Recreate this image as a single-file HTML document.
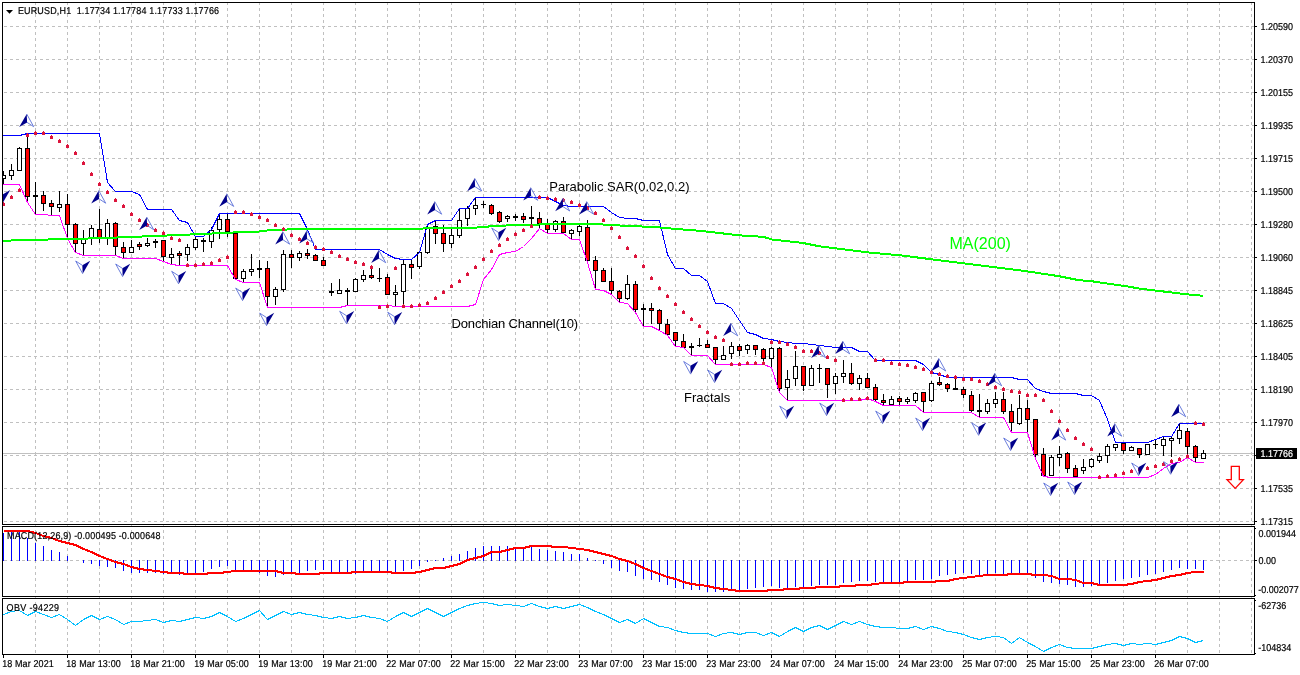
<!DOCTYPE html>
<html lang="en"><head><meta charset="utf-8"><title>EURUSD,H1</title>
<style>
html,body{margin:0;padding:0;background:#fff;}
body{width:1300px;height:675px;overflow:hidden;}
svg{display:block;font-family:"Liberation Sans",sans-serif;}
.ax{font-size:10px;fill:#000;stroke:#000;stroke-width:0.2px;}
.lb{font-size:13px;fill:#000;}
.cr{shape-rendering:crispEdges;}
</style></head><body>
<svg width="1300" height="675" viewBox="0 0 1300 675">
<rect width="1300" height="675" fill="#fff"/>
<defs><clipPath id="mc"><rect x="3" y="3" width="1251" height="521"/></clipPath></defs>
<g class="cr" stroke="#c0c0c0" stroke-width="1" stroke-dasharray="3 3" fill="none">
<path d="M35.5 2V654M67.5 2V654M99.5 2V654M131.5 2V654M163.5 2V654M195.5 2V654M227.5 2V654M259.5 2V654M291.5 2V654M323.5 2V654M355.5 2V654M387.5 2V654M419.5 2V654M451.5 2V654M483.5 2V654M515.5 2V654M547.5 2V654M579.5 2V654M611.5 2V654M643.5 2V654M675.5 2V654M707.5 2V654M739.5 2V654M771.5 2V654M803.5 2V654M835.5 2V654M867.5 2V654M899.5 2V654M931.5 2V654M963.5 2V654M995.5 2V654M1027.5 2V654M1059.5 2V654M1091.5 2V654M1123.5 2V654M1155.5 2V654M1187.5 2V654M1219.5 2V654M1251.5 2V654"/>
<path d="M4 26.5H1254M4 59.5H1254M4 92.5H1254M4 125.5H1254M4 158.5H1254M4 191.5H1254M4 224.5H1254M4 257.5H1254M4 290.5H1254M4 323.5H1254M4 356.5H1254M4 389.5H1254M4 422.5H1254M4 455.5H1254M4 488.5H1254M4 521.5H1254M4 560.5H1254"/>
</g>
<rect class="cr" x="3" y="453" width="1251" height="1" fill="#c0c0c0"/>
<g class="cr" clip-path="url(#mc)">
<rect x="3" y="171" width="1" height="13" fill="#000"/>
<rect x="1" y="175" width="5" height="4" fill="#000"/>
<rect x="2" y="176" width="3" height="2" fill="#ffffff"/>
<rect x="11" y="164" width="1" height="16" fill="#000"/>
<rect x="9" y="170" width="5" height="6" fill="#000"/>
<rect x="10" y="171" width="3" height="4" fill="#ffffff"/>
<rect x="19" y="147" width="1" height="24" fill="#000"/>
<rect x="17" y="148" width="5" height="23" fill="#000"/>
<rect x="18" y="149" width="3" height="21" fill="#ffffff"/>
<rect x="27" y="134" width="1" height="68" fill="#000"/>
<rect x="25" y="148" width="5" height="49" fill="#000"/>
<rect x="26" y="149" width="3" height="47" fill="#ff0000"/>
<rect x="35" y="182" width="1" height="32" fill="#000"/>
<rect x="33" y="195" width="5" height="2" fill="#000"/>
<rect x="43" y="191" width="1" height="20" fill="#000"/>
<rect x="41" y="195" width="5" height="9" fill="#000"/>
<rect x="42" y="196" width="3" height="7" fill="#ff0000"/>
<rect x="51" y="200" width="1" height="15" fill="#000"/>
<rect x="49" y="203" width="5" height="4" fill="#000"/>
<rect x="50" y="204" width="3" height="2" fill="#ff0000"/>
<rect x="59" y="191" width="1" height="21" fill="#000"/>
<rect x="57" y="204" width="5" height="4" fill="#000"/>
<rect x="58" y="205" width="3" height="2" fill="#ffffff"/>
<rect x="67" y="194" width="1" height="44" fill="#000"/>
<rect x="65" y="204" width="5" height="21" fill="#000"/>
<rect x="66" y="205" width="3" height="19" fill="#ff0000"/>
<rect x="75" y="223" width="1" height="29" fill="#000"/>
<rect x="73" y="224" width="5" height="20" fill="#000"/>
<rect x="74" y="225" width="3" height="18" fill="#ff0000"/>
<rect x="83" y="230" width="1" height="25" fill="#000"/>
<rect x="81" y="238" width="5" height="6" fill="#000"/>
<rect x="82" y="239" width="3" height="4" fill="#ffffff"/>
<rect x="91" y="225" width="1" height="20" fill="#000"/>
<rect x="89" y="228" width="5" height="11" fill="#000"/>
<rect x="90" y="229" width="3" height="9" fill="#ffffff"/>
<rect x="99" y="209" width="1" height="34" fill="#000"/>
<rect x="97" y="229" width="5" height="9" fill="#000"/>
<rect x="98" y="230" width="3" height="7" fill="#ff0000"/>
<rect x="107" y="219" width="1" height="26" fill="#000"/>
<rect x="105" y="223" width="5" height="15" fill="#000"/>
<rect x="106" y="224" width="3" height="13" fill="#ffffff"/>
<rect x="115" y="222" width="1" height="33" fill="#000"/>
<rect x="113" y="223" width="5" height="24" fill="#000"/>
<rect x="114" y="224" width="3" height="22" fill="#ff0000"/>
<rect x="123" y="242" width="1" height="16" fill="#000"/>
<rect x="121" y="247" width="5" height="6" fill="#000"/>
<rect x="122" y="248" width="3" height="4" fill="#ff0000"/>
<rect x="131" y="240" width="1" height="12" fill="#000"/>
<rect x="129" y="247" width="5" height="6" fill="#000"/>
<rect x="130" y="248" width="3" height="4" fill="#ffffff"/>
<rect x="139" y="242" width="1" height="8" fill="#000"/>
<rect x="137" y="244" width="5" height="3" fill="#000"/>
<rect x="138" y="245" width="3" height="1" fill="#ff0000"/>
<rect x="147" y="238" width="1" height="9" fill="#000"/>
<rect x="145" y="243" width="5" height="3" fill="#000"/>
<rect x="146" y="244" width="3" height="1" fill="#ffffff"/>
<rect x="155" y="239" width="1" height="9" fill="#000"/>
<rect x="153" y="241" width="5" height="2" fill="#000"/>
<rect x="163" y="240" width="1" height="21" fill="#000"/>
<rect x="161" y="240" width="5" height="17" fill="#000"/>
<rect x="162" y="241" width="3" height="15" fill="#ff0000"/>
<rect x="171" y="248" width="1" height="16" fill="#000"/>
<rect x="169" y="254" width="5" height="4" fill="#000"/>
<rect x="170" y="255" width="3" height="2" fill="#ffffff"/>
<rect x="179" y="251" width="1" height="14" fill="#000"/>
<rect x="177" y="253" width="5" height="3" fill="#000"/>
<rect x="178" y="254" width="3" height="1" fill="#ff0000"/>
<rect x="187" y="244" width="1" height="17" fill="#000"/>
<rect x="185" y="247" width="5" height="8" fill="#000"/>
<rect x="186" y="248" width="3" height="6" fill="#ffffff"/>
<rect x="195" y="237" width="1" height="13" fill="#000"/>
<rect x="193" y="239" width="5" height="9" fill="#000"/>
<rect x="194" y="240" width="3" height="7" fill="#ffffff"/>
<rect x="203" y="238" width="1" height="14" fill="#000"/>
<rect x="201" y="240" width="5" height="2" fill="#000"/>
<rect x="211" y="227" width="1" height="21" fill="#000"/>
<rect x="209" y="230" width="5" height="12" fill="#000"/>
<rect x="210" y="231" width="3" height="10" fill="#ffffff"/>
<rect x="219" y="214" width="1" height="25" fill="#000"/>
<rect x="217" y="219" width="5" height="11" fill="#000"/>
<rect x="218" y="220" width="3" height="9" fill="#ffffff"/>
<rect x="227" y="213" width="1" height="24" fill="#000"/>
<rect x="225" y="219" width="5" height="13" fill="#000"/>
<rect x="226" y="220" width="3" height="11" fill="#ff0000"/>
<rect x="235" y="232" width="1" height="48" fill="#000"/>
<rect x="233" y="233" width="5" height="46" fill="#000"/>
<rect x="234" y="234" width="3" height="44" fill="#ff0000"/>
<rect x="243" y="269" width="1" height="13" fill="#000"/>
<rect x="241" y="271" width="5" height="8" fill="#000"/>
<rect x="242" y="272" width="3" height="6" fill="#ffffff"/>
<rect x="251" y="254" width="1" height="22" fill="#000"/>
<rect x="249" y="269" width="5" height="3" fill="#000"/>
<rect x="250" y="270" width="3" height="1" fill="#ffffff"/>
<rect x="259" y="260" width="1" height="18" fill="#000"/>
<rect x="257" y="268" width="5" height="2" fill="#000"/>
<rect x="267" y="261" width="1" height="46" fill="#000"/>
<rect x="265" y="268" width="5" height="29" fill="#000"/>
<rect x="266" y="269" width="3" height="27" fill="#ff0000"/>
<rect x="275" y="287" width="1" height="18" fill="#000"/>
<rect x="273" y="289" width="5" height="8" fill="#000"/>
<rect x="274" y="290" width="3" height="6" fill="#ffffff"/>
<rect x="283" y="250" width="1" height="42" fill="#000"/>
<rect x="281" y="254" width="5" height="36" fill="#000"/>
<rect x="282" y="255" width="3" height="34" fill="#ffffff"/>
<rect x="291" y="250" width="1" height="18" fill="#000"/>
<rect x="289" y="254" width="5" height="4" fill="#000"/>
<rect x="290" y="255" width="3" height="2" fill="#ff0000"/>
<rect x="299" y="251" width="1" height="10" fill="#000"/>
<rect x="297" y="253" width="5" height="5" fill="#000"/>
<rect x="298" y="254" width="3" height="3" fill="#ffffff"/>
<rect x="307" y="249" width="1" height="10" fill="#000"/>
<rect x="305" y="253" width="5" height="3" fill="#000"/>
<rect x="306" y="254" width="3" height="1" fill="#ff0000"/>
<rect x="315" y="254" width="1" height="7" fill="#000"/>
<rect x="313" y="255" width="5" height="6" fill="#000"/>
<rect x="314" y="256" width="3" height="4" fill="#ff0000"/>
<rect x="323" y="257" width="1" height="9" fill="#000"/>
<rect x="321" y="260" width="5" height="6" fill="#000"/>
<rect x="322" y="261" width="3" height="4" fill="#ff0000"/>
<rect x="331" y="283" width="1" height="13" fill="#000"/>
<rect x="329" y="291" width="5" height="2" fill="#000"/>
<rect x="339" y="279" width="1" height="14" fill="#000"/>
<rect x="337" y="290" width="5" height="4" fill="#000"/>
<rect x="338" y="291" width="3" height="2" fill="#ffffff"/>
<rect x="347" y="288" width="1" height="17" fill="#000"/>
<rect x="345" y="290" width="5" height="2" fill="#000"/>
<rect x="355" y="278" width="1" height="14" fill="#000"/>
<rect x="353" y="279" width="5" height="13" fill="#000"/>
<rect x="354" y="280" width="3" height="11" fill="#ffffff"/>
<rect x="363" y="270" width="1" height="12" fill="#000"/>
<rect x="361" y="275" width="5" height="5" fill="#000"/>
<rect x="362" y="276" width="3" height="3" fill="#ffffff"/>
<rect x="371" y="268" width="1" height="11" fill="#000"/>
<rect x="369" y="275" width="5" height="3" fill="#000"/>
<rect x="370" y="276" width="3" height="1" fill="#ff0000"/>
<rect x="379" y="268" width="1" height="14" fill="#000"/>
<rect x="377" y="278" width="5" height="1" fill="#000"/>
<rect x="387" y="274" width="1" height="20" fill="#000"/>
<rect x="385" y="277" width="5" height="18" fill="#000"/>
<rect x="386" y="278" width="3" height="16" fill="#ff0000"/>
<rect x="395" y="285" width="1" height="21" fill="#000"/>
<rect x="393" y="292" width="5" height="3" fill="#000"/>
<rect x="394" y="293" width="3" height="1" fill="#ffffff"/>
<rect x="403" y="260" width="1" height="46" fill="#000"/>
<rect x="401" y="264" width="5" height="28" fill="#000"/>
<rect x="402" y="265" width="3" height="26" fill="#ffffff"/>
<rect x="411" y="260" width="1" height="19" fill="#000"/>
<rect x="409" y="264" width="5" height="4" fill="#000"/>
<rect x="410" y="265" width="3" height="2" fill="#ff0000"/>
<rect x="419" y="252" width="1" height="17" fill="#000"/>
<rect x="417" y="252" width="5" height="15" fill="#000"/>
<rect x="418" y="253" width="3" height="13" fill="#ffffff"/>
<rect x="427" y="224" width="1" height="30" fill="#000"/>
<rect x="425" y="227" width="5" height="26" fill="#000"/>
<rect x="426" y="228" width="3" height="24" fill="#ffffff"/>
<rect x="435" y="221" width="1" height="23" fill="#000"/>
<rect x="433" y="226" width="5" height="8" fill="#000"/>
<rect x="434" y="227" width="3" height="6" fill="#ff0000"/>
<rect x="443" y="225" width="1" height="27" fill="#000"/>
<rect x="441" y="233" width="5" height="11" fill="#000"/>
<rect x="442" y="234" width="3" height="9" fill="#ff0000"/>
<rect x="451" y="227" width="1" height="21" fill="#000"/>
<rect x="449" y="235" width="5" height="9" fill="#000"/>
<rect x="450" y="236" width="3" height="7" fill="#ffffff"/>
<rect x="459" y="208" width="1" height="30" fill="#000"/>
<rect x="457" y="220" width="5" height="16" fill="#000"/>
<rect x="458" y="221" width="3" height="14" fill="#ffffff"/>
<rect x="467" y="206" width="1" height="20" fill="#000"/>
<rect x="465" y="208" width="5" height="11" fill="#000"/>
<rect x="466" y="209" width="3" height="9" fill="#ffffff"/>
<rect x="475" y="198" width="1" height="17" fill="#000"/>
<rect x="473" y="205" width="5" height="4" fill="#000"/>
<rect x="474" y="206" width="3" height="2" fill="#ffffff"/>
<rect x="483" y="201" width="1" height="7" fill="#000"/>
<rect x="481" y="204" width="5" height="1" fill="#000"/>
<rect x="491" y="204" width="1" height="11" fill="#000"/>
<rect x="489" y="205" width="5" height="9" fill="#000"/>
<rect x="490" y="206" width="3" height="7" fill="#ff0000"/>
<rect x="499" y="211" width="1" height="12" fill="#000"/>
<rect x="497" y="212" width="5" height="10" fill="#000"/>
<rect x="498" y="213" width="3" height="8" fill="#ff0000"/>
<rect x="507" y="215" width="1" height="7" fill="#000"/>
<rect x="505" y="216" width="5" height="3" fill="#000"/>
<rect x="506" y="217" width="3" height="1" fill="#ffffff"/>
<rect x="515" y="214" width="1" height="7" fill="#000"/>
<rect x="513" y="216" width="5" height="2" fill="#000"/>
<rect x="523" y="213" width="1" height="10" fill="#000"/>
<rect x="521" y="216" width="5" height="4" fill="#000"/>
<rect x="522" y="217" width="3" height="2" fill="#ff0000"/>
<rect x="531" y="206" width="1" height="20" fill="#000"/>
<rect x="529" y="217" width="5" height="2" fill="#000"/>
<rect x="539" y="212" width="1" height="16" fill="#000"/>
<rect x="537" y="218" width="5" height="6" fill="#000"/>
<rect x="538" y="219" width="3" height="4" fill="#ff0000"/>
<rect x="547" y="219" width="1" height="14" fill="#000"/>
<rect x="545" y="223" width="5" height="7" fill="#000"/>
<rect x="546" y="224" width="3" height="5" fill="#ff0000"/>
<rect x="555" y="220" width="1" height="12" fill="#000"/>
<rect x="553" y="221" width="5" height="9" fill="#000"/>
<rect x="554" y="222" width="3" height="7" fill="#ffffff"/>
<rect x="563" y="217" width="1" height="17" fill="#000"/>
<rect x="561" y="221" width="5" height="12" fill="#000"/>
<rect x="562" y="222" width="3" height="10" fill="#ff0000"/>
<rect x="571" y="229" width="1" height="10" fill="#000"/>
<rect x="569" y="230" width="5" height="4" fill="#000"/>
<rect x="570" y="231" width="3" height="2" fill="#ffffff"/>
<rect x="579" y="225" width="1" height="11" fill="#000"/>
<rect x="577" y="226" width="5" height="6" fill="#000"/>
<rect x="578" y="227" width="3" height="4" fill="#ffffff"/>
<rect x="587" y="220" width="1" height="42" fill="#000"/>
<rect x="585" y="227" width="5" height="34" fill="#000"/>
<rect x="586" y="228" width="3" height="32" fill="#ff0000"/>
<rect x="595" y="256" width="1" height="33" fill="#000"/>
<rect x="593" y="260" width="5" height="11" fill="#000"/>
<rect x="594" y="261" width="3" height="9" fill="#ff0000"/>
<rect x="603" y="268" width="1" height="14" fill="#000"/>
<rect x="601" y="270" width="5" height="12" fill="#000"/>
<rect x="602" y="271" width="3" height="10" fill="#ff0000"/>
<rect x="611" y="268" width="1" height="26" fill="#000"/>
<rect x="609" y="281" width="5" height="10" fill="#000"/>
<rect x="610" y="282" width="3" height="8" fill="#ff0000"/>
<rect x="619" y="290" width="1" height="12" fill="#000"/>
<rect x="617" y="291" width="5" height="8" fill="#000"/>
<rect x="618" y="292" width="3" height="6" fill="#ff0000"/>
<rect x="627" y="275" width="1" height="25" fill="#000"/>
<rect x="625" y="284" width="5" height="15" fill="#000"/>
<rect x="626" y="285" width="3" height="13" fill="#ffffff"/>
<rect x="635" y="281" width="1" height="31" fill="#000"/>
<rect x="633" y="284" width="5" height="26" fill="#000"/>
<rect x="634" y="285" width="3" height="24" fill="#ff0000"/>
<rect x="643" y="304" width="1" height="22" fill="#000"/>
<rect x="641" y="308" width="5" height="2" fill="#000"/>
<rect x="651" y="303" width="1" height="21" fill="#000"/>
<rect x="649" y="308" width="5" height="3" fill="#000"/>
<rect x="650" y="309" width="3" height="1" fill="#ff0000"/>
<rect x="659" y="309" width="1" height="21" fill="#000"/>
<rect x="657" y="310" width="5" height="14" fill="#000"/>
<rect x="658" y="311" width="3" height="12" fill="#ff0000"/>
<rect x="667" y="319" width="1" height="16" fill="#000"/>
<rect x="665" y="324" width="5" height="11" fill="#000"/>
<rect x="666" y="325" width="3" height="9" fill="#ff0000"/>
<rect x="675" y="332" width="1" height="14" fill="#000"/>
<rect x="673" y="332" width="5" height="9" fill="#000"/>
<rect x="674" y="333" width="3" height="7" fill="#ff0000"/>
<rect x="683" y="334" width="1" height="14" fill="#000"/>
<rect x="681" y="341" width="5" height="7" fill="#000"/>
<rect x="682" y="342" width="3" height="5" fill="#ff0000"/>
<rect x="691" y="343" width="1" height="12" fill="#000"/>
<rect x="689" y="346" width="5" height="2" fill="#000"/>
<rect x="699" y="338" width="1" height="9" fill="#000"/>
<rect x="697" y="345" width="5" height="1" fill="#000"/>
<rect x="707" y="340" width="1" height="8" fill="#000"/>
<rect x="705" y="344" width="5" height="4" fill="#000"/>
<rect x="706" y="345" width="3" height="2" fill="#ff0000"/>
<rect x="715" y="347" width="1" height="17" fill="#000"/>
<rect x="713" y="347" width="5" height="13" fill="#000"/>
<rect x="714" y="348" width="3" height="11" fill="#ff0000"/>
<rect x="723" y="346" width="1" height="14" fill="#000"/>
<rect x="721" y="355" width="5" height="5" fill="#000"/>
<rect x="722" y="356" width="3" height="3" fill="#ffffff"/>
<rect x="731" y="342" width="1" height="17" fill="#000"/>
<rect x="729" y="346" width="5" height="8" fill="#000"/>
<rect x="730" y="347" width="3" height="6" fill="#ffffff"/>
<rect x="739" y="344" width="1" height="12" fill="#000"/>
<rect x="737" y="346" width="5" height="5" fill="#000"/>
<rect x="738" y="347" width="3" height="3" fill="#ff0000"/>
<rect x="747" y="344" width="1" height="10" fill="#000"/>
<rect x="745" y="345" width="5" height="5" fill="#000"/>
<rect x="746" y="346" width="3" height="3" fill="#ffffff"/>
<rect x="755" y="345" width="1" height="10" fill="#000"/>
<rect x="753" y="345" width="5" height="5" fill="#000"/>
<rect x="754" y="346" width="3" height="3" fill="#ff0000"/>
<rect x="763" y="348" width="1" height="14" fill="#000"/>
<rect x="761" y="349" width="5" height="10" fill="#000"/>
<rect x="762" y="350" width="3" height="8" fill="#ff0000"/>
<rect x="771" y="347" width="1" height="20" fill="#000"/>
<rect x="769" y="348" width="5" height="11" fill="#000"/>
<rect x="770" y="349" width="3" height="9" fill="#ffffff"/>
<rect x="779" y="347" width="1" height="45" fill="#000"/>
<rect x="777" y="348" width="5" height="41" fill="#000"/>
<rect x="778" y="349" width="3" height="39" fill="#ff0000"/>
<rect x="787" y="370" width="1" height="30" fill="#000"/>
<rect x="785" y="379" width="5" height="9" fill="#000"/>
<rect x="786" y="380" width="3" height="7" fill="#ffffff"/>
<rect x="795" y="351" width="1" height="35" fill="#000"/>
<rect x="793" y="366" width="5" height="13" fill="#000"/>
<rect x="794" y="367" width="3" height="11" fill="#ffffff"/>
<rect x="803" y="366" width="1" height="25" fill="#000"/>
<rect x="801" y="366" width="5" height="20" fill="#000"/>
<rect x="802" y="367" width="3" height="18" fill="#ff0000"/>
<rect x="811" y="365" width="1" height="21" fill="#000"/>
<rect x="809" y="368" width="5" height="18" fill="#000"/>
<rect x="810" y="369" width="3" height="16" fill="#ffffff"/>
<rect x="819" y="364" width="1" height="19" fill="#000"/>
<rect x="817" y="368" width="5" height="1" fill="#000"/>
<rect x="827" y="368" width="1" height="30" fill="#000"/>
<rect x="825" y="368" width="5" height="17" fill="#000"/>
<rect x="826" y="369" width="3" height="15" fill="#ff0000"/>
<rect x="835" y="373" width="1" height="21" fill="#000"/>
<rect x="833" y="376" width="5" height="8" fill="#000"/>
<rect x="834" y="377" width="3" height="6" fill="#ffffff"/>
<rect x="843" y="360" width="1" height="23" fill="#000"/>
<rect x="841" y="373" width="5" height="4" fill="#000"/>
<rect x="842" y="374" width="3" height="2" fill="#ffffff"/>
<rect x="851" y="363" width="1" height="22" fill="#000"/>
<rect x="849" y="373" width="5" height="11" fill="#000"/>
<rect x="850" y="374" width="3" height="9" fill="#ff0000"/>
<rect x="859" y="375" width="1" height="15" fill="#000"/>
<rect x="857" y="378" width="5" height="6" fill="#000"/>
<rect x="858" y="379" width="3" height="4" fill="#ffffff"/>
<rect x="867" y="373" width="1" height="15" fill="#000"/>
<rect x="865" y="378" width="5" height="10" fill="#000"/>
<rect x="866" y="379" width="3" height="8" fill="#ff0000"/>
<rect x="875" y="384" width="1" height="17" fill="#000"/>
<rect x="873" y="387" width="5" height="13" fill="#000"/>
<rect x="874" y="388" width="3" height="11" fill="#ff0000"/>
<rect x="883" y="394" width="1" height="11" fill="#000"/>
<rect x="881" y="400" width="5" height="3" fill="#000"/>
<rect x="882" y="401" width="3" height="1" fill="#ff0000"/>
<rect x="891" y="396" width="1" height="9" fill="#000"/>
<rect x="889" y="399" width="5" height="6" fill="#000"/>
<rect x="890" y="400" width="3" height="4" fill="#ffffff"/>
<rect x="899" y="396" width="1" height="9" fill="#000"/>
<rect x="897" y="398" width="5" height="4" fill="#000"/>
<rect x="898" y="399" width="3" height="2" fill="#ff0000"/>
<rect x="907" y="397" width="1" height="7" fill="#000"/>
<rect x="905" y="399" width="5" height="3" fill="#000"/>
<rect x="906" y="400" width="3" height="1" fill="#ffffff"/>
<rect x="915" y="392" width="1" height="11" fill="#000"/>
<rect x="913" y="393" width="5" height="8" fill="#000"/>
<rect x="914" y="394" width="3" height="6" fill="#ffffff"/>
<rect x="923" y="392" width="1" height="20" fill="#000"/>
<rect x="921" y="392" width="5" height="10" fill="#000"/>
<rect x="922" y="393" width="3" height="8" fill="#ff0000"/>
<rect x="931" y="381" width="1" height="21" fill="#000"/>
<rect x="929" y="383" width="5" height="18" fill="#000"/>
<rect x="930" y="384" width="3" height="16" fill="#ffffff"/>
<rect x="939" y="377" width="1" height="9" fill="#000"/>
<rect x="937" y="382" width="5" height="3" fill="#000"/>
<rect x="938" y="383" width="3" height="1" fill="#ff0000"/>
<rect x="947" y="383" width="1" height="9" fill="#000"/>
<rect x="945" y="384" width="5" height="5" fill="#000"/>
<rect x="946" y="385" width="3" height="3" fill="#ff0000"/>
<rect x="955" y="377" width="1" height="12" fill="#000"/>
<rect x="953" y="388" width="5" height="2" fill="#000"/>
<rect x="963" y="387" width="1" height="11" fill="#000"/>
<rect x="961" y="389" width="5" height="6" fill="#000"/>
<rect x="962" y="390" width="3" height="4" fill="#ff0000"/>
<rect x="971" y="391" width="1" height="21" fill="#000"/>
<rect x="969" y="395" width="5" height="16" fill="#000"/>
<rect x="970" y="396" width="3" height="14" fill="#ff0000"/>
<rect x="979" y="394" width="1" height="23" fill="#000"/>
<rect x="977" y="410" width="5" height="2" fill="#000"/>
<rect x="987" y="399" width="1" height="15" fill="#000"/>
<rect x="985" y="403" width="5" height="9" fill="#000"/>
<rect x="986" y="404" width="3" height="7" fill="#ffffff"/>
<rect x="995" y="392" width="1" height="16" fill="#000"/>
<rect x="993" y="399" width="5" height="5" fill="#000"/>
<rect x="994" y="400" width="3" height="3" fill="#ffffff"/>
<rect x="1003" y="392" width="1" height="22" fill="#000"/>
<rect x="1001" y="399" width="5" height="13" fill="#000"/>
<rect x="1002" y="400" width="3" height="11" fill="#ff0000"/>
<rect x="1011" y="404" width="1" height="28" fill="#000"/>
<rect x="1009" y="411" width="5" height="12" fill="#000"/>
<rect x="1010" y="412" width="3" height="10" fill="#ff0000"/>
<rect x="1019" y="395" width="1" height="30" fill="#000"/>
<rect x="1017" y="408" width="5" height="16" fill="#000"/>
<rect x="1018" y="409" width="3" height="14" fill="#ffffff"/>
<rect x="1027" y="400" width="1" height="32" fill="#000"/>
<rect x="1025" y="408" width="5" height="12" fill="#000"/>
<rect x="1026" y="409" width="3" height="10" fill="#ff0000"/>
<rect x="1035" y="419" width="1" height="39" fill="#000"/>
<rect x="1033" y="419" width="5" height="36" fill="#000"/>
<rect x="1034" y="420" width="3" height="34" fill="#ff0000"/>
<rect x="1043" y="448" width="1" height="28" fill="#000"/>
<rect x="1041" y="454" width="5" height="22" fill="#000"/>
<rect x="1042" y="455" width="3" height="20" fill="#ff0000"/>
<rect x="1051" y="455" width="1" height="21" fill="#000"/>
<rect x="1049" y="457" width="5" height="19" fill="#000"/>
<rect x="1050" y="458" width="3" height="17" fill="#ffffff"/>
<rect x="1059" y="446" width="1" height="20" fill="#000"/>
<rect x="1057" y="454" width="5" height="4" fill="#000"/>
<rect x="1058" y="455" width="3" height="2" fill="#ffffff"/>
<rect x="1067" y="452" width="1" height="21" fill="#000"/>
<rect x="1065" y="453" width="5" height="16" fill="#000"/>
<rect x="1066" y="454" width="3" height="14" fill="#ff0000"/>
<rect x="1075" y="465" width="1" height="12" fill="#000"/>
<rect x="1073" y="468" width="5" height="9" fill="#000"/>
<rect x="1074" y="469" width="3" height="7" fill="#ff0000"/>
<rect x="1083" y="459" width="1" height="15" fill="#000"/>
<rect x="1081" y="467" width="5" height="4" fill="#000"/>
<rect x="1082" y="468" width="3" height="2" fill="#ffffff"/>
<rect x="1091" y="458" width="1" height="10" fill="#000"/>
<rect x="1089" y="459" width="5" height="8" fill="#000"/>
<rect x="1090" y="460" width="3" height="6" fill="#ffffff"/>
<rect x="1099" y="453" width="1" height="10" fill="#000"/>
<rect x="1097" y="456" width="5" height="5" fill="#000"/>
<rect x="1098" y="457" width="3" height="3" fill="#ffffff"/>
<rect x="1107" y="444" width="1" height="19" fill="#000"/>
<rect x="1105" y="446" width="5" height="10" fill="#000"/>
<rect x="1106" y="447" width="3" height="8" fill="#ffffff"/>
<rect x="1115" y="444" width="1" height="7" fill="#000"/>
<rect x="1113" y="444" width="5" height="4" fill="#000"/>
<rect x="1114" y="445" width="3" height="2" fill="#ffffff"/>
<rect x="1123" y="443" width="1" height="11" fill="#000"/>
<rect x="1121" y="443" width="5" height="8" fill="#000"/>
<rect x="1122" y="444" width="3" height="6" fill="#ff0000"/>
<rect x="1131" y="446" width="1" height="5" fill="#000"/>
<rect x="1129" y="447" width="5" height="4" fill="#000"/>
<rect x="1130" y="448" width="3" height="2" fill="#ffffff"/>
<rect x="1139" y="448" width="1" height="10" fill="#000"/>
<rect x="1137" y="448" width="5" height="7" fill="#000"/>
<rect x="1138" y="449" width="3" height="5" fill="#ff0000"/>
<rect x="1147" y="444" width="1" height="11" fill="#000"/>
<rect x="1145" y="444" width="5" height="11" fill="#000"/>
<rect x="1146" y="445" width="3" height="9" fill="#ffffff"/>
<rect x="1155" y="440" width="1" height="9" fill="#000"/>
<rect x="1153" y="444" width="5" height="1" fill="#000"/>
<rect x="1163" y="436" width="1" height="20" fill="#000"/>
<rect x="1161" y="439" width="5" height="7" fill="#000"/>
<rect x="1162" y="440" width="3" height="5" fill="#ffffff"/>
<rect x="1171" y="436" width="1" height="21" fill="#000"/>
<rect x="1169" y="438" width="5" height="3" fill="#000"/>
<rect x="1170" y="439" width="3" height="1" fill="#ffffff"/>
<rect x="1179" y="424" width="1" height="20" fill="#000"/>
<rect x="1177" y="430" width="5" height="9" fill="#000"/>
<rect x="1178" y="431" width="3" height="7" fill="#ffffff"/>
<rect x="1187" y="428" width="1" height="28" fill="#000"/>
<rect x="1185" y="431" width="5" height="16" fill="#000"/>
<rect x="1186" y="432" width="3" height="14" fill="#ff0000"/>
<rect x="1195" y="445" width="1" height="17" fill="#000"/>
<rect x="1193" y="446" width="5" height="12" fill="#000"/>
<rect x="1194" y="447" width="3" height="10" fill="#ff0000"/>
<rect x="1203" y="450" width="1" height="8" fill="#000"/>
<rect x="1201" y="453" width="5" height="6" fill="#000"/>
<rect x="1202" y="454" width="3" height="4" fill="#ffffff"/>
</g>
<polyline class="cr" points="3,135.5 11.5,135.5 19.5,135.5 27.5,133.5 35.5,133.5 43.5,133.5 51.5,133.5 59.5,133.5 67.5,133.5 75.5,133.5 83.5,133.5 91.5,133.5 99.5,133.5 107.5,182.5 115.5,191.5 123.5,191.5 131.5,191.5 139.5,194.5 147.5,209.5 155.5,209.5 163.5,209.5 171.5,209.5 179.5,220.5 187.5,222.5 195.5,236.5 203.5,236.5 211.5,229.5 219.5,213.5 227.5,213.5 235.5,213.5 243.5,213.5 251.5,213.5 259.5,213.5 267.5,213.5 275.5,213.5 283.5,213.5 291.5,213.5 299.5,213.5 307.5,229.5 315.5,249.5 323.5,249.5 331.5,249.5 339.5,249.5 347.5,249.5 355.5,249.5 363.5,249.5 371.5,249.5 379.5,249.5 387.5,254.5 395.5,258.5 403.5,259.5 411.5,259.5 419.5,252.5 427.5,224.5 435.5,220.5 443.5,220.5 451.5,220.5 459.5,208.5 467.5,208.5 475.5,197.5 483.5,197.5 491.5,197.5 499.5,197.5 507.5,197.5 515.5,197.5 523.5,197.5 531.5,197.5 539.5,197.5 547.5,197.5 555.5,201.5 563.5,205.5 571.5,206.5 579.5,206.5 587.5,206.5 595.5,206.5 603.5,206.5 611.5,212.5 619.5,217.5 627.5,218.5 635.5,218.5 643.5,220.5 651.5,220.5 659.5,220.5 667.5,254.5 675.5,268.5 683.5,268.5 691.5,275.5 699.5,275.5 707.5,281.5 715.5,303.5 723.5,303.5 731.5,308.5 739.5,320.5 747.5,332.5 755.5,334.5 763.5,338.5 771.5,339.5 779.5,341.5 787.5,342.5 795.5,343.5 803.5,343.5 811.5,344.5 819.5,345.5 827.5,346.5 835.5,347.5 843.5,347.5 851.5,347.5 859.5,351.5 867.5,351.5 875.5,360.5 883.5,360.5 891.5,360.5 899.5,360.5 907.5,360.5 915.5,360.5 923.5,364.5 931.5,372.5 939.5,374.5 947.5,377.5 955.5,377.5 963.5,377.5 971.5,377.5 979.5,377.5 987.5,377.5 995.5,377.5 1003.5,377.5 1011.5,377.5 1019.5,379.5 1027.5,379.5 1035.5,388.5 1043.5,391.5 1051.5,393.5 1059.5,393.5 1067.5,393.5 1075.5,393.5 1083.5,395.5 1091.5,395.5 1099.5,400.5 1107.5,419.5 1115.5,442.5 1123.5,442.5 1131.5,442.5 1139.5,442.5 1147.5,442.5 1155.5,439.5 1163.5,436.5 1171.5,436.5 1179.5,423.5 1187.5,423.5 1195.5,423.5 1203.5,423.5 1204,423.5" fill="none" stroke="#0000ff" stroke-width="1"/>
<polyline class="cr" points="3,184.5 11.5,184.5 19.5,184.5 27.5,202.5 35.5,214.5 43.5,214.5 51.5,215.5 59.5,215.5 67.5,238.5 75.5,252.5 83.5,255.5 91.5,255.5 99.5,255.5 107.5,255.5 115.5,255.5 123.5,258.5 131.5,258.5 139.5,258.5 147.5,258.5 155.5,258.5 163.5,261.5 171.5,264.5 179.5,265.5 187.5,265.5 195.5,265.5 203.5,265.5 211.5,265.5 219.5,265.5 227.5,265.5 235.5,279.5 243.5,282.5 251.5,282.5 259.5,282.5 267.5,307.5 275.5,307.5 283.5,307.5 291.5,307.5 299.5,307.5 307.5,307.5 315.5,307.5 323.5,307.5 331.5,307.5 339.5,307.5 347.5,305.5 355.5,305.5 363.5,305.5 371.5,305.5 379.5,305.5 387.5,305.5 395.5,306.5 403.5,306.5 411.5,306.5 419.5,306.5 427.5,306.5 435.5,306.5 443.5,306.5 451.5,306.5 459.5,306.5 467.5,306.5 475.5,304.5 483.5,279.5 491.5,269.5 499.5,254.5 507.5,252.5 515.5,251.5 523.5,246.5 531.5,238.5 539.5,228.5 547.5,233.5 555.5,233.5 563.5,233.5 571.5,239.5 579.5,239.5 587.5,262.5 595.5,289.5 603.5,290.5 611.5,294.5 619.5,302.5 627.5,303.5 635.5,312.5 643.5,326.5 651.5,326.5 659.5,330.5 667.5,335.5 675.5,346.5 683.5,347.5 691.5,355.5 699.5,355.5 707.5,355.5 715.5,364.5 723.5,364.5 731.5,364.5 739.5,364.5 747.5,364.5 755.5,364.5 763.5,364.5 771.5,367.5 779.5,392.5 787.5,400.5 795.5,400.5 803.5,400.5 811.5,400.5 819.5,400.5 827.5,400.5 835.5,400.5 843.5,400.5 851.5,400.5 859.5,400.5 867.5,398.5 875.5,401.5 883.5,405.5 891.5,405.5 899.5,405.5 907.5,405.5 915.5,405.5 923.5,412.5 931.5,412.5 939.5,412.5 947.5,412.5 955.5,412.5 963.5,412.5 971.5,412.5 979.5,417.5 987.5,417.5 995.5,417.5 1003.5,417.5 1011.5,432.5 1019.5,432.5 1027.5,432.5 1035.5,458.5 1043.5,476.5 1051.5,477.5 1059.5,477.5 1067.5,477.5 1075.5,477.5 1083.5,477.5 1091.5,477.5 1099.5,477.5 1107.5,477.5 1115.5,477.5 1123.5,477.5 1131.5,477.5 1139.5,477.5 1147.5,477.5 1155.5,474.5 1163.5,468.5 1171.5,463.5 1179.5,462.5 1187.5,457.5 1195.5,462.5 1203.5,462.5 1204,462.5" fill="none" stroke="#ff00ff" stroke-width="1"/>
<polyline class="cr" points="3,240.8 20,240.2 52,239.4 100,238.2 160,235.8 200,234.1 228,232.7 259,231.5 270,230.2 290,229.4 370,228.9 450,228.3 476,227.6 492,226.2 520,224.8 560,224.2 600,224.2 608,225 640,226.4 660,227.5 680,229.3 700,230.8 740,235.4 763,236.8 772,239.5 803,243 820,246.4 836,248.4 867,252.3 900,255.3 931,259.2 963,263.3 996,267.4 1027,271.3 1059,276.2 1078,280 1092,281.3 1124,285.9 1140,288.6 1155,290.5 1188,294.4 1203,295.8" fill="none" stroke="#00ff00" stroke-width="2" stroke-linejoin="round"/>
<g class="cr" fill="#dc143c">
<path d="M2 203h1v-1h1v1h1v3h-3z"/>
<path d="M10 196h1v-1h1v1h1v3h-3z"/>
<path d="M18 189h1v-1h1v1h1v3h-3z"/>
<path d="M26 134h1v-1h1v1h1v3h-3z"/>
<path d="M34 132h1v-1h1v1h1v3h-3z"/>
<path d="M42 132h1v-1h1v1h1v3h-3z"/>
<path d="M50 136h1v-1h1v1h1v3h-3z"/>
<path d="M58 140h1v-1h1v1h1v3h-3z"/>
<path d="M66 145h1v-1h1v1h1v3h-3z"/>
<path d="M74 152h1v-1h1v1h1v3h-3z"/>
<path d="M82 162h1v-1h1v1h1v3h-3z"/>
<path d="M90 173h1v-1h1v1h1v3h-3z"/>
<path d="M98 183h1v-1h1v1h1v3h-3z"/>
<path d="M106 191h1v-1h1v1h1v3h-3z"/>
<path d="M114 199h1v-1h1v1h1v3h-3z"/>
<path d="M122 205h1v-1h1v1h1v3h-3z"/>
<path d="M130 213h1v-1h1v1h1v3h-3z"/>
<path d="M138 219h1v-1h1v1h1v3h-3z"/>
<path d="M146 224h1v-1h1v1h1v3h-3z"/>
<path d="M154 229h1v-1h1v1h1v3h-3z"/>
<path d="M162 232h1v-1h1v1h1v3h-3z"/>
<path d="M170 237h1v-1h1v1h1v3h-3z"/>
<path d="M178 239h1v-1h1v1h1v3h-3z"/>
<path d="M186 264h1v-1h1v1h1v3h-3z"/>
<path d="M194 264h1v-1h1v1h1v3h-3z"/>
<path d="M202 263h1v-1h1v1h1v3h-3z"/>
<path d="M210 262h1v-1h1v1h1v3h-3z"/>
<path d="M218 259h1v-1h1v1h1v3h-3z"/>
<path d="M226 256h1v-1h1v1h1v3h-3z"/>
<path d="M234 211h1v-1h1v1h1v3h-3z"/>
<path d="M242 211h1v-1h1v1h1v3h-3z"/>
<path d="M250 213h1v-1h1v1h1v3h-3z"/>
<path d="M258 216h1v-1h1v1h1v3h-3z"/>
<path d="M266 219h1v-1h1v1h1v3h-3z"/>
<path d="M274 224h1v-1h1v1h1v3h-3z"/>
<path d="M282 228h1v-1h1v1h1v3h-3z"/>
<path d="M290 234h1v-1h1v1h1v3h-3z"/>
<path d="M298 238h1v-1h1v1h1v3h-3z"/>
<path d="M306 242h1v-1h1v1h1v3h-3z"/>
<path d="M314 246h1v-1h1v1h1v3h-3z"/>
<path d="M322 248h1v-1h1v1h1v3h-3z"/>
<path d="M330 251h1v-1h1v1h1v3h-3z"/>
<path d="M338 255h1v-1h1v1h1v3h-3z"/>
<path d="M346 258h1v-1h1v1h1v3h-3z"/>
<path d="M354 261h1v-1h1v1h1v3h-3z"/>
<path d="M362 263h1v-1h1v1h1v3h-3z"/>
<path d="M370 266h1v-1h1v1h1v3h-3z"/>
<path d="M378 306h1v-1h1v1h1v3h-3z"/>
<path d="M386 305h1v-1h1v1h1v3h-3z"/>
<path d="M394 267h1v-1h1v1h1v3h-3z"/>
<path d="M402 305h1v-1h1v1h1v3h-3z"/>
<path d="M410 305h1v-1h1v1h1v3h-3z"/>
<path d="M418 304h1v-1h1v1h1v3h-3z"/>
<path d="M426 302h1v-1h1v1h1v3h-3z"/>
<path d="M434 297h1v-1h1v1h1v3h-3z"/>
<path d="M442 291h1v-1h1v1h1v3h-3z"/>
<path d="M450 285h1v-1h1v1h1v3h-3z"/>
<path d="M458 280h1v-1h1v1h1v3h-3z"/>
<path d="M466 273h1v-1h1v1h1v3h-3z"/>
<path d="M474 266h1v-1h1v1h1v3h-3z"/>
<path d="M482 258h1v-1h1v1h1v3h-3z"/>
<path d="M490 250h1v-1h1v1h1v3h-3z"/>
<path d="M498 244h1v-1h1v1h1v3h-3z"/>
<path d="M506 238h1v-1h1v1h1v3h-3z"/>
<path d="M514 233h1v-1h1v1h1v3h-3z"/>
<path d="M522 229h1v-1h1v1h1v3h-3z"/>
<path d="M530 225h1v-1h1v1h1v3h-3z"/>
<path d="M538 196h1v-1h1v1h1v3h-3z"/>
<path d="M546 197h1v-1h1v1h1v3h-3z"/>
<path d="M554 198h1v-1h1v1h1v3h-3z"/>
<path d="M562 199h1v-1h1v1h1v3h-3z"/>
<path d="M570 201h1v-1h1v1h1v3h-3z"/>
<path d="M578 204h1v-1h1v1h1v3h-3z"/>
<path d="M586 207h1v-1h1v1h1v3h-3z"/>
<path d="M594 212h1v-1h1v1h1v3h-3z"/>
<path d="M602 219h1v-1h1v1h1v3h-3z"/>
<path d="M610 227h1v-1h1v1h1v3h-3z"/>
<path d="M618 236h1v-1h1v1h1v3h-3z"/>
<path d="M626 247h1v-1h1v1h1v3h-3z"/>
<path d="M634 255h1v-1h1v1h1v3h-3z"/>
<path d="M642 265h1v-1h1v1h1v3h-3z"/>
<path d="M650 277h1v-1h1v1h1v3h-3z"/>
<path d="M658 287h1v-1h1v1h1v3h-3z"/>
<path d="M666 295h1v-1h1v1h1v3h-3z"/>
<path d="M674 303h1v-1h1v1h1v3h-3z"/>
<path d="M682 311h1v-1h1v1h1v3h-3z"/>
<path d="M690 318h1v-1h1v1h1v3h-3z"/>
<path d="M698 325h1v-1h1v1h1v3h-3z"/>
<path d="M706 331h1v-1h1v1h1v3h-3z"/>
<path d="M714 336h1v-1h1v1h1v3h-3z"/>
<path d="M722 339h1v-1h1v1h1v3h-3z"/>
<path d="M730 363h1v-1h1v1h1v3h-3z"/>
<path d="M738 363h1v-1h1v1h1v3h-3z"/>
<path d="M746 362h1v-1h1v1h1v3h-3z"/>
<path d="M754 362h1v-1h1v1h1v3h-3z"/>
<path d="M762 362h1v-1h1v1h1v3h-3z"/>
<path d="M770 341h1v-1h1v1h1v3h-3z"/>
<path d="M778 341h1v-1h1v1h1v3h-3z"/>
<path d="M786 343h1v-1h1v1h1v3h-3z"/>
<path d="M794 346h1v-1h1v1h1v3h-3z"/>
<path d="M802 350h1v-1h1v1h1v3h-3z"/>
<path d="M810 350h1v-1h1v1h1v3h-3z"/>
<path d="M818 352h1v-1h1v1h1v3h-3z"/>
<path d="M826 356h1v-1h1v1h1v3h-3z"/>
<path d="M834 359h1v-1h1v1h1v3h-3z"/>
<path d="M842 399h1v-1h1v1h1v3h-3z"/>
<path d="M850 398h1v-1h1v1h1v3h-3z"/>
<path d="M858 398h1v-1h1v1h1v3h-3z"/>
<path d="M866 397h1v-1h1v1h1v3h-3z"/>
<path d="M874 359h1v-1h1v1h1v3h-3z"/>
<path d="M882 359h1v-1h1v1h1v3h-3z"/>
<path d="M890 362h1v-1h1v1h1v3h-3z"/>
<path d="M898 363h1v-1h1v1h1v3h-3z"/>
<path d="M906 364h1v-1h1v1h1v3h-3z"/>
<path d="M914 366h1v-1h1v1h1v3h-3z"/>
<path d="M922 368h1v-1h1v1h1v3h-3z"/>
<path d="M930 371h1v-1h1v1h1v3h-3z"/>
<path d="M938 373h1v-1h1v1h1v3h-3z"/>
<path d="M946 375h1v-1h1v1h1v3h-3z"/>
<path d="M954 376h1v-1h1v1h1v3h-3z"/>
<path d="M962 378h1v-1h1v1h1v3h-3z"/>
<path d="M970 378h1v-1h1v1h1v3h-3z"/>
<path d="M978 380h1v-1h1v1h1v3h-3z"/>
<path d="M986 383h1v-1h1v1h1v3h-3z"/>
<path d="M994 386h1v-1h1v1h1v3h-3z"/>
<path d="M1002 388h1v-1h1v1h1v3h-3z"/>
<path d="M1010 390h1v-1h1v1h1v3h-3z"/>
<path d="M1018 391h1v-1h1v1h1v3h-3z"/>
<path d="M1026 394h1v-1h1v1h1v3h-3z"/>
<path d="M1034 394h1v-1h1v1h1v3h-3z"/>
<path d="M1042 399h1v-1h1v1h1v3h-3z"/>
<path d="M1050 410h1v-1h1v1h1v3h-3z"/>
<path d="M1058 420h1v-1h1v1h1v3h-3z"/>
<path d="M1066 429h1v-1h1v1h1v3h-3z"/>
<path d="M1074 437h1v-1h1v1h1v3h-3z"/>
<path d="M1082 443h1v-1h1v1h1v3h-3z"/>
<path d="M1090 448h1v-1h1v1h1v3h-3z"/>
<path d="M1098 476h1v-1h1v1h1v3h-3z"/>
<path d="M1106 475h1v-1h1v1h1v3h-3z"/>
<path d="M1114 474h1v-1h1v1h1v3h-3z"/>
<path d="M1122 472h1v-1h1v1h1v3h-3z"/>
<path d="M1130 470h1v-1h1v1h1v3h-3z"/>
<path d="M1138 468h1v-1h1v1h1v3h-3z"/>
<path d="M1146 467h1v-1h1v1h1v3h-3z"/>
<path d="M1154 465h1v-1h1v1h1v3h-3z"/>
<path d="M1162 463h1v-1h1v1h1v3h-3z"/>
<path d="M1170 460h1v-1h1v1h1v3h-3z"/>
<path d="M1178 458h1v-1h1v1h1v3h-3z"/>
<path d="M1186 455h1v-1h1v1h1v3h-3z"/>
<path d="M1194 422h1v-1h1v1h1v3h-3z"/>
<path d="M1202 423h1v-1h1v1h1v3h-3z"/>
</g>
<g clip-path="url(#mc)">
<path d="M26.7 114L19.2 127L27.099999999999998 122.4Z" fill="#00008b"/><path d="M26.7 114L33.7 126.7L27.099999999999998 122.4" fill="none" stroke="#5a6fd8" stroke-width="0.9"/>
<path d="M98.7 190.5L91.2 203.5L99.10000000000001 198.9Z" fill="#00008b"/><path d="M98.7 190.5L105.7 203.2L99.10000000000001 198.9" fill="none" stroke="#5a6fd8" stroke-width="0.9"/>
<path d="M146.7 217L139.2 230L147.1 225.4Z" fill="#00008b"/><path d="M146.7 217L153.7 229.7L147.1 225.4" fill="none" stroke="#5a6fd8" stroke-width="0.9"/>
<path d="M226.7 193.7L219.2 206.7L227.1 202.1Z" fill="#00008b"/><path d="M226.7 193.7L233.7 206.39999999999998L227.1 202.1" fill="none" stroke="#5a6fd8" stroke-width="0.9"/>
<path d="M282.7 231.5L275.2 244.5L283.09999999999997 239.9Z" fill="#00008b"/><path d="M282.7 231.5L289.7 244.2L283.09999999999997 239.9" fill="none" stroke="#5a6fd8" stroke-width="0.9"/>
<path d="M306.7 230.5L299.2 243.5L307.09999999999997 238.9Z" fill="#00008b"/><path d="M306.7 230.5L313.7 243.2L307.09999999999997 238.9" fill="none" stroke="#5a6fd8" stroke-width="0.9"/>
<path d="M378.7 250L371.2 263L379.09999999999997 258.4Z" fill="#00008b"/><path d="M378.7 250L385.7 262.7L379.09999999999997 258.4" fill="none" stroke="#5a6fd8" stroke-width="0.9"/>
<path d="M434.7 201.5L427.2 214.5L435.09999999999997 209.9Z" fill="#00008b"/><path d="M434.7 201.5L441.7 214.2L435.09999999999997 209.9" fill="none" stroke="#5a6fd8" stroke-width="0.9"/>
<path d="M474.7 178.3L467.2 191.3L475.09999999999997 186.70000000000002Z" fill="#00008b"/><path d="M474.7 178.3L481.7 191.0L475.09999999999997 186.70000000000002" fill="none" stroke="#5a6fd8" stroke-width="0.9"/>
<path d="M530.7 187.6L523.2 200.6L531.1 196.0Z" fill="#00008b"/><path d="M530.7 187.6L537.7 200.29999999999998L531.1 196.0" fill="none" stroke="#5a6fd8" stroke-width="0.9"/>
<path d="M562.7 198.3L555.2 211.3L563.1 206.70000000000002Z" fill="#00008b"/><path d="M562.7 198.3L569.7 211.0L563.1 206.70000000000002" fill="none" stroke="#5a6fd8" stroke-width="0.9"/>
<path d="M586.7 201.5L579.2 214.5L587.1 209.9Z" fill="#00008b"/><path d="M586.7 201.5L593.7 214.2L587.1 209.9" fill="none" stroke="#5a6fd8" stroke-width="0.9"/>
<path d="M730.7 323.1L723.2 336.1L731.1 331.5Z" fill="#00008b"/><path d="M730.7 323.1L737.7 335.8L731.1 331.5" fill="none" stroke="#5a6fd8" stroke-width="0.9"/>
<path d="M818.7 345L811.2 358L819.1 353.4Z" fill="#00008b"/><path d="M818.7 345L825.7 357.7L819.1 353.4" fill="none" stroke="#5a6fd8" stroke-width="0.9"/>
<path d="M842.7 341.1L835.2 354.1L843.1 349.5Z" fill="#00008b"/><path d="M842.7 341.1L849.7 353.8L843.1 349.5" fill="none" stroke="#5a6fd8" stroke-width="0.9"/>
<path d="M938.7 358.3L931.2 371.3L939.1 366.7Z" fill="#00008b"/><path d="M938.7 358.3L945.7 371.0L939.1 366.7" fill="none" stroke="#5a6fd8" stroke-width="0.9"/>
<path d="M994.7 373.1L987.2 386.1L995.1 381.5Z" fill="#00008b"/><path d="M994.7 373.1L1001.7 385.8L995.1 381.5" fill="none" stroke="#5a6fd8" stroke-width="0.9"/>
<path d="M1058.7 427.4L1051.2 440.4L1059.1000000000001 435.79999999999995Z" fill="#00008b"/><path d="M1058.7 427.4L1065.7 440.09999999999997L1059.1000000000001 435.79999999999995" fill="none" stroke="#5a6fd8" stroke-width="0.9"/>
<path d="M1114.7 423.5L1107.2 436.5L1115.1000000000001 431.9Z" fill="#00008b"/><path d="M1114.7 423.5L1121.7 436.2L1115.1000000000001 431.9" fill="none" stroke="#5a6fd8" stroke-width="0.9"/>
<path d="M1178.7 404L1171.2 417L1179.1000000000001 412.4Z" fill="#00008b"/><path d="M1178.7 404L1185.7 416.7L1179.1000000000001 412.4" fill="none" stroke="#5a6fd8" stroke-width="0.9"/>
<path d="M2.7 203.1L10.2 190.1L2.3000000000000003 194.70000000000002Z" fill="#00008b"/><path d="M2.7 203.1L-4.3 190.4L2.3000000000000003 194.70000000000002" fill="none" stroke="#5a6fd8" stroke-width="0.9"/>
<path d="M82.7 273.7L90.2 260.7L82.3 265.3Z" fill="#00008b"/><path d="M82.7 273.7L75.7 261L82.3 265.3" fill="none" stroke="#5a6fd8" stroke-width="0.9"/>
<path d="M122.7 276.7L130.2 263.7L122.3 268.3Z" fill="#00008b"/><path d="M122.7 276.7L115.7 264L122.3 268.3" fill="none" stroke="#5a6fd8" stroke-width="0.9"/>
<path d="M178.7 284.0L186.2 271.0L178.29999999999998 275.6Z" fill="#00008b"/><path d="M178.7 284.0L171.7 271.3L178.29999999999998 275.6" fill="none" stroke="#5a6fd8" stroke-width="0.9"/>
<path d="M242.7 300.8L250.2 287.8L242.29999999999998 292.40000000000003Z" fill="#00008b"/><path d="M242.7 300.8L235.7 288.1L242.29999999999998 292.40000000000003" fill="none" stroke="#5a6fd8" stroke-width="0.9"/>
<path d="M266.7 325.8L274.2 312.8L266.3 317.40000000000003Z" fill="#00008b"/><path d="M266.7 325.8L259.7 313.1L266.3 317.40000000000003" fill="none" stroke="#5a6fd8" stroke-width="0.9"/>
<path d="M346.7 324.0L354.2 311.0L346.3 315.6Z" fill="#00008b"/><path d="M346.7 324.0L339.7 311.3L346.3 315.6" fill="none" stroke="#5a6fd8" stroke-width="0.9"/>
<path d="M394.7 324.9L402.2 311.9L394.3 316.5Z" fill="#00008b"/><path d="M394.7 324.9L387.7 312.2L394.3 316.5" fill="none" stroke="#5a6fd8" stroke-width="0.9"/>
<path d="M498.7 240.7L506.2 227.7L498.3 232.3Z" fill="#00008b"/><path d="M498.7 240.7L491.7 228L498.3 232.3" fill="none" stroke="#5a6fd8" stroke-width="0.9"/>
<path d="M690.7 374.2L698.2 361.2L690.3000000000001 365.8Z" fill="#00008b"/><path d="M690.7 374.2L683.7 361.5L690.3000000000001 365.8" fill="none" stroke="#5a6fd8" stroke-width="0.9"/>
<path d="M714.7 382.7L722.2 369.7L714.3000000000001 374.3Z" fill="#00008b"/><path d="M714.7 382.7L707.7 370L714.3000000000001 374.3" fill="none" stroke="#5a6fd8" stroke-width="0.9"/>
<path d="M786.7 418.8L794.2 405.8L786.3000000000001 410.40000000000003Z" fill="#00008b"/><path d="M786.7 418.8L779.7 406.1L786.3000000000001 410.40000000000003" fill="none" stroke="#5a6fd8" stroke-width="0.9"/>
<path d="M826.7 415.8L834.2 402.8L826.3000000000001 407.40000000000003Z" fill="#00008b"/><path d="M826.7 415.8L819.7 403.1L826.3000000000001 407.40000000000003" fill="none" stroke="#5a6fd8" stroke-width="0.9"/>
<path d="M882.7 423.8L890.2 410.8L882.3000000000001 415.40000000000003Z" fill="#00008b"/><path d="M882.7 423.8L875.7 411.1L882.3000000000001 415.40000000000003" fill="none" stroke="#5a6fd8" stroke-width="0.9"/>
<path d="M922.7 430.8L930.2 417.8L922.3000000000001 422.40000000000003Z" fill="#00008b"/><path d="M922.7 430.8L915.7 418.1L922.3000000000001 422.40000000000003" fill="none" stroke="#5a6fd8" stroke-width="0.9"/>
<path d="M978.7 435.5L986.2 422.5L978.3000000000001 427.1Z" fill="#00008b"/><path d="M978.7 435.5L971.7 422.8L978.3000000000001 427.1" fill="none" stroke="#5a6fd8" stroke-width="0.9"/>
<path d="M1010.7 450.7L1018.2 437.7L1010.3000000000001 442.3Z" fill="#00008b"/><path d="M1010.7 450.7L1003.7 438L1010.3000000000001 442.3" fill="none" stroke="#5a6fd8" stroke-width="0.9"/>
<path d="M1050.7 495.7L1058.2 482.7L1050.3 487.3Z" fill="#00008b"/><path d="M1050.7 495.7L1043.7 483L1050.3 487.3" fill="none" stroke="#5a6fd8" stroke-width="0.9"/>
<path d="M1074.7 494.7L1082.2 481.7L1074.3 486.3Z" fill="#00008b"/><path d="M1074.7 494.7L1067.7 482L1074.3 486.3" fill="none" stroke="#5a6fd8" stroke-width="0.9"/>
<path d="M1138.7 475.7L1146.2 462.7L1138.3 467.3Z" fill="#00008b"/><path d="M1138.7 475.7L1131.7 463L1138.3 467.3" fill="none" stroke="#5a6fd8" stroke-width="0.9"/>
<path d="M1170.7 474.4L1178.2 461.4L1170.3 466.0Z" fill="#00008b"/><path d="M1170.7 474.4L1163.7 461.7L1170.3 466.0" fill="none" stroke="#5a6fd8" stroke-width="0.9"/>
</g>
<path d="M1231.3 466.4H1239.3V479.6H1243.4L1235.2 488.4L1227 479.6H1231.3Z" fill="#fff" stroke="#ff0000" stroke-width="1.3" stroke-linejoin="miter"/>
<g class="cr" fill="#0000ff">
<rect x="3" y="533" width="1" height="28"/>
<rect x="11" y="532" width="1" height="29"/>
<rect x="19" y="532" width="1" height="29"/>
<rect x="27" y="538" width="1" height="23"/>
<rect x="35" y="543" width="1" height="18"/>
<rect x="43" y="546" width="1" height="15"/>
<rect x="51" y="550" width="1" height="11"/>
<rect x="59" y="552" width="1" height="9"/>
<rect x="67" y="556" width="1" height="5"/>
<rect x="83" y="560" width="1" height="3"/>
<rect x="91" y="560" width="1" height="4"/>
<rect x="99" y="560" width="1" height="6"/>
<rect x="107" y="560" width="1" height="7"/>
<rect x="115" y="560" width="1" height="8"/>
<rect x="123" y="560" width="1" height="11"/>
<rect x="131" y="560" width="1" height="13"/>
<rect x="139" y="560" width="1" height="13"/>
<rect x="147" y="560" width="1" height="13"/>
<rect x="155" y="560" width="1" height="13"/>
<rect x="163" y="560" width="1" height="14"/>
<rect x="171" y="560" width="1" height="14"/>
<rect x="179" y="560" width="1" height="15"/>
<rect x="187" y="560" width="1" height="14"/>
<rect x="195" y="560" width="1" height="14"/>
<rect x="203" y="560" width="1" height="12"/>
<rect x="211" y="560" width="1" height="9"/>
<rect x="219" y="560" width="1" height="7"/>
<rect x="227" y="560" width="1" height="6"/>
<rect x="235" y="560" width="1" height="10"/>
<rect x="243" y="560" width="1" height="10"/>
<rect x="251" y="560" width="1" height="10"/>
<rect x="259" y="560" width="1" height="13"/>
<rect x="267" y="560" width="1" height="16"/>
<rect x="275" y="560" width="1" height="17"/>
<rect x="283" y="560" width="1" height="15"/>
<rect x="291" y="560" width="1" height="13"/>
<rect x="299" y="560" width="1" height="13"/>
<rect x="307" y="560" width="1" height="11"/>
<rect x="315" y="560" width="1" height="10"/>
<rect x="323" y="560" width="1" height="10"/>
<rect x="331" y="560" width="1" height="12"/>
<rect x="339" y="560" width="1" height="12"/>
<rect x="347" y="560" width="1" height="13"/>
<rect x="355" y="560" width="1" height="14"/>
<rect x="363" y="560" width="1" height="12"/>
<rect x="371" y="560" width="1" height="11"/>
<rect x="379" y="560" width="1" height="11"/>
<rect x="387" y="560" width="1" height="11"/>
<rect x="395" y="560" width="1" height="13"/>
<rect x="403" y="560" width="1" height="11"/>
<rect x="411" y="560" width="1" height="9"/>
<rect x="419" y="560" width="1" height="6"/>
<rect x="427" y="560" width="1" height="2"/>
<rect x="435" y="560" width="1" height="1"/>
<rect x="443" y="558" width="1" height="3"/>
<rect x="451" y="556" width="1" height="5"/>
<rect x="459" y="554" width="1" height="7"/>
<rect x="467" y="551" width="1" height="10"/>
<rect x="475" y="548" width="1" height="13"/>
<rect x="483" y="546" width="1" height="15"/>
<rect x="491" y="546" width="1" height="15"/>
<rect x="499" y="546" width="1" height="15"/>
<rect x="507" y="546" width="1" height="15"/>
<rect x="515" y="547" width="1" height="14"/>
<rect x="523" y="547" width="1" height="14"/>
<rect x="531" y="546" width="1" height="15"/>
<rect x="539" y="549" width="1" height="12"/>
<rect x="547" y="550" width="1" height="11"/>
<rect x="555" y="551" width="1" height="10"/>
<rect x="563" y="552" width="1" height="9"/>
<rect x="571" y="554" width="1" height="7"/>
<rect x="579" y="554" width="1" height="7"/>
<rect x="587" y="558" width="1" height="3"/>
<rect x="595" y="560" width="1" height="1"/>
<rect x="603" y="560" width="1" height="4"/>
<rect x="611" y="560" width="1" height="8"/>
<rect x="619" y="560" width="1" height="11"/>
<rect x="627" y="560" width="1" height="12"/>
<rect x="635" y="560" width="1" height="16"/>
<rect x="643" y="560" width="1" height="19"/>
<rect x="651" y="560" width="1" height="20"/>
<rect x="659" y="560" width="1" height="22"/>
<rect x="667" y="560" width="1" height="25"/>
<rect x="675" y="560" width="1" height="28"/>
<rect x="683" y="560" width="1" height="29"/>
<rect x="691" y="560" width="1" height="30"/>
<rect x="699" y="560" width="1" height="30"/>
<rect x="707" y="560" width="1" height="32"/>
<rect x="715" y="560" width="1" height="32"/>
<rect x="723" y="560" width="1" height="32"/>
<rect x="731" y="560" width="1" height="31"/>
<rect x="739" y="560" width="1" height="30"/>
<rect x="747" y="560" width="1" height="29"/>
<rect x="755" y="560" width="1" height="28"/>
<rect x="763" y="560" width="1" height="27"/>
<rect x="771" y="560" width="1" height="26"/>
<rect x="779" y="560" width="1" height="28"/>
<rect x="787" y="560" width="1" height="28"/>
<rect x="795" y="560" width="1" height="27"/>
<rect x="803" y="560" width="1" height="27"/>
<rect x="811" y="560" width="1" height="26"/>
<rect x="819" y="560" width="1" height="25"/>
<rect x="827" y="560" width="1" height="25"/>
<rect x="835" y="560" width="1" height="25"/>
<rect x="843" y="560" width="1" height="23"/>
<rect x="851" y="560" width="1" height="22"/>
<rect x="859" y="560" width="1" height="21"/>
<rect x="867" y="560" width="1" height="21"/>
<rect x="875" y="560" width="1" height="22"/>
<rect x="883" y="560" width="1" height="22"/>
<rect x="891" y="560" width="1" height="22"/>
<rect x="899" y="560" width="1" height="22"/>
<rect x="907" y="560" width="1" height="21"/>
<rect x="915" y="560" width="1" height="20"/>
<rect x="923" y="560" width="1" height="20"/>
<rect x="931" y="560" width="1" height="19"/>
<rect x="939" y="560" width="1" height="16"/>
<rect x="947" y="560" width="1" height="15"/>
<rect x="955" y="560" width="1" height="14"/>
<rect x="963" y="560" width="1" height="13"/>
<rect x="971" y="560" width="1" height="14"/>
<rect x="979" y="560" width="1" height="15"/>
<rect x="987" y="560" width="1" height="14"/>
<rect x="995" y="560" width="1" height="13"/>
<rect x="1003" y="560" width="1" height="14"/>
<rect x="1011" y="560" width="1" height="14"/>
<rect x="1019" y="560" width="1" height="14"/>
<rect x="1027" y="560" width="1" height="14"/>
<rect x="1035" y="560" width="1" height="18"/>
<rect x="1043" y="560" width="1" height="22"/>
<rect x="1051" y="560" width="1" height="23"/>
<rect x="1059" y="560" width="1" height="24"/>
<rect x="1067" y="560" width="1" height="25"/>
<rect x="1075" y="560" width="1" height="27"/>
<rect x="1083" y="560" width="1" height="27"/>
<rect x="1091" y="560" width="1" height="26"/>
<rect x="1099" y="560" width="1" height="25"/>
<rect x="1107" y="560" width="1" height="23"/>
<rect x="1115" y="560" width="1" height="21"/>
<rect x="1123" y="560" width="1" height="19"/>
<rect x="1131" y="560" width="1" height="18"/>
<rect x="1139" y="560" width="1" height="17"/>
<rect x="1147" y="560" width="1" height="15"/>
<rect x="1155" y="560" width="1" height="14"/>
<rect x="1163" y="560" width="1" height="12"/>
<rect x="1171" y="560" width="1" height="10"/>
<rect x="1179" y="560" width="1" height="8"/>
<rect x="1187" y="560" width="1" height="9"/>
<rect x="1195" y="560" width="1" height="9"/>
<rect x="1203" y="560" width="1" height="10"/>
</g>
<polyline class="cr" points="3.5,531 11.5,531 19.5,531 27.5,531 35.5,533 43.5,536 51.5,538 59.5,541 67.5,543 75.5,545 83.5,549 91.5,552 99.5,556 107.5,559 115.5,562 123.5,564 131.5,567 139.5,569 147.5,570 155.5,571 163.5,572 171.5,573 179.5,573 187.5,574 195.5,574 203.5,574 211.5,573 219.5,573 227.5,572 235.5,571 243.5,571 251.5,571 259.5,571 267.5,571 275.5,571 283.5,573 291.5,573 299.5,574 307.5,574 315.5,574 323.5,573 331.5,573 339.5,573 347.5,573 355.5,572 363.5,572 371.5,572 379.5,572 387.5,572 395.5,573 403.5,573 411.5,573 419.5,572 427.5,570 435.5,568 443.5,568 451.5,566 459.5,564 467.5,560 475.5,558 483.5,556 491.5,552 499.5,552 507.5,550 515.5,548 523.5,548 531.5,546 539.5,546 547.5,546 555.5,547 563.5,547 571.5,548 579.5,549 587.5,550 595.5,552 603.5,554 611.5,556 619.5,559 627.5,561 635.5,564 643.5,568 651.5,571 659.5,574 667.5,577 675.5,579 683.5,582 691.5,584 699.5,585 707.5,586 715.5,588 723.5,589 731.5,590 739.5,591 747.5,591 755.5,591 763.5,591 771.5,590 779.5,590 787.5,589 795.5,589 803.5,588 811.5,588 819.5,587 827.5,587 835.5,587 843.5,586 851.5,586 859.5,585 867.5,585 875.5,584 883.5,583 891.5,583 899.5,583 907.5,582 915.5,582 923.5,582 931.5,582 939.5,581 947.5,581 955.5,579 963.5,578 971.5,577 979.5,576 987.5,575 995.5,575 1003.5,575 1011.5,574 1019.5,574 1027.5,574 1035.5,575 1043.5,575 1051.5,576 1059.5,579 1067.5,579 1075.5,580 1083.5,583 1091.5,583 1099.5,585 1107.5,585 1115.5,585 1123.5,585 1131.5,584 1139.5,582 1147.5,581 1155.5,580 1163.5,578 1171.5,576 1179.5,575 1187.5,573 1195.5,572 1203.5,572" fill="none" stroke="#ff0000" stroke-width="2"/>
<polyline class="cr" points="3.5,614.5 11.5,611.5 19.5,610.5 27.5,615.5 35.5,611.5 43.5,614.5 51.5,617.5 59.5,614.5 67.5,619.5 75.5,625.5 83.5,619.5 91.5,615.5 99.5,619.5 107.5,616.5 115.5,619.5 123.5,624.5 131.5,621.5 139.5,621.5 147.5,620.5 155.5,619.5 163.5,622.5 171.5,620.5 179.5,621.5 187.5,619.5 195.5,617.5 203.5,618.5 211.5,616.5 219.5,612.5 227.5,616.5 235.5,621.5 243.5,618.5 251.5,614.5 259.5,610.5 267.5,619.5 275.5,615.5 283.5,611.5 291.5,614.5 299.5,612.5 307.5,614.5 315.5,615.5 323.5,617.5 331.5,618.5 339.5,616.5 347.5,618.5 355.5,617.5 363.5,615.5 371.5,617.5 379.5,618.5 387.5,621.5 395.5,616.5 403.5,612.5 411.5,616.5 419.5,612.5 427.5,608.5 435.5,612.5 443.5,616.5 451.5,612.5 459.5,608.5 467.5,605.5 475.5,603.5 483.5,602.5 491.5,603.5 499.5,605.5 507.5,604.5 515.5,605.5 523.5,606.5 531.5,603.5 539.5,606.5 547.5,608.5 555.5,606.5 563.5,608.5 571.5,606.5 579.5,604.5 587.5,607.5 595.5,611.5 603.5,614.5 611.5,618.5 619.5,622.5 627.5,619.5 635.5,623.5 643.5,618.5 651.5,622.5 659.5,626.5 667.5,627.5 675.5,630.5 683.5,632.5 691.5,633.5 699.5,633.5 707.5,633.5 715.5,636.5 723.5,633.5 731.5,632.5 739.5,634.5 747.5,632.5 755.5,632.5 763.5,635.5 771.5,632.5 779.5,636.5 787.5,631.5 795.5,627.5 803.5,631.5 811.5,627.5 819.5,625.5 827.5,629.5 835.5,625.5 843.5,621.5 851.5,624.5 859.5,621.5 867.5,624.5 875.5,626.5 883.5,627.5 891.5,627.5 899.5,628.5 907.5,628.5 915.5,626.5 923.5,629.5 931.5,626.5 939.5,628.5 947.5,631.5 955.5,632.5 963.5,634.5 971.5,637.5 979.5,639.5 987.5,637.5 995.5,636.5 1003.5,637.5 1011.5,643.5 1019.5,637.5 1027.5,642.5 1035.5,646.5 1043.5,651.5 1051.5,647.5 1059.5,644.5 1067.5,647.5 1075.5,648.5 1083.5,648.5 1091.5,648.5 1099.5,646.5 1107.5,644.5 1115.5,643.5 1123.5,645.5 1131.5,643.5 1139.5,644.5 1147.5,643.5 1155.5,644.5 1163.5,642.5 1171.5,640.5 1179.5,636.5 1187.5,638.5 1195.5,642.5 1203.5,640.5" fill="none" stroke="#00bfff" stroke-width="1"/>
<g class="cr" fill="none" stroke="#000" stroke-width="1">
<rect x="2.5" y="2.5" width="1252" height="522"/>
<rect x="2.5" y="526.5" width="1252" height="70"/>
<rect x="2.5" y="598.5" width="1252" height="56"/>
</g>
<g class="cr" fill="#000">
<rect x="1255" y="26" width="2" height="1"/>
<rect x="1255" y="59" width="2" height="1"/>
<rect x="1255" y="92" width="2" height="1"/>
<rect x="1255" y="125" width="2" height="1"/>
<rect x="1255" y="158" width="2" height="1"/>
<rect x="1255" y="191" width="2" height="1"/>
<rect x="1255" y="224" width="2" height="1"/>
<rect x="1255" y="257" width="2" height="1"/>
<rect x="1255" y="290" width="2" height="1"/>
<rect x="1255" y="323" width="2" height="1"/>
<rect x="1255" y="356" width="2" height="1"/>
<rect x="1255" y="389" width="2" height="1"/>
<rect x="1255" y="422" width="2" height="1"/>
<rect x="1255" y="455" width="2" height="1"/>
<rect x="1255" y="488" width="2" height="1"/>
<rect x="1255" y="521" width="2" height="1"/>
<rect x="1255" y="560" width="2" height="1"/>
<rect x="1255" y="528" width="1" height="1"/>
<rect x="1255" y="595" width="1" height="1"/>
<rect x="1255" y="600" width="1" height="1"/>
<rect x="1255" y="653" width="1" height="1"/>
<rect x="3" y="655" width="1" height="3"/>
<rect x="67" y="655" width="1" height="3"/>
<rect x="131" y="655" width="1" height="3"/>
<rect x="195" y="655" width="1" height="3"/>
<rect x="259" y="655" width="1" height="3"/>
<rect x="323" y="655" width="1" height="3"/>
<rect x="387" y="655" width="1" height="3"/>
<rect x="451" y="655" width="1" height="3"/>
<rect x="515" y="655" width="1" height="3"/>
<rect x="579" y="655" width="1" height="3"/>
<rect x="643" y="655" width="1" height="3"/>
<rect x="707" y="655" width="1" height="3"/>
<rect x="771" y="655" width="1" height="3"/>
<rect x="835" y="655" width="1" height="3"/>
<rect x="899" y="655" width="1" height="3"/>
<rect x="963" y="655" width="1" height="3"/>
<rect x="1027" y="655" width="1" height="3"/>
<rect x="1091" y="655" width="1" height="3"/>
<rect x="1155" y="655" width="1" height="3"/>
</g>
<g class="ax">
<text transform="translate(1260.4 30) scale(0.9 1) skewX(0.05)">1.20590</text>
<text transform="translate(1260.4 63) scale(0.9 1) skewX(0.05)">1.20370</text>
<text transform="translate(1260.4 96) scale(0.9 1) skewX(0.05)">1.20155</text>
<text transform="translate(1260.4 129) scale(0.9 1) skewX(0.05)">1.19935</text>
<text transform="translate(1260.4 162) scale(0.9 1) skewX(0.05)">1.19715</text>
<text transform="translate(1260.4 195) scale(0.9 1) skewX(0.05)">1.19500</text>
<text transform="translate(1260.4 228) scale(0.9 1) skewX(0.05)">1.19280</text>
<text transform="translate(1260.4 261) scale(0.9 1) skewX(0.05)">1.19060</text>
<text transform="translate(1260.4 294) scale(0.9 1) skewX(0.05)">1.18845</text>
<text transform="translate(1260.4 327) scale(0.9 1) skewX(0.05)">1.18625</text>
<text transform="translate(1260.4 360) scale(0.9 1) skewX(0.05)">1.18405</text>
<text transform="translate(1260.4 393) scale(0.9 1) skewX(0.05)">1.18190</text>
<text transform="translate(1260.4 426) scale(0.9 1) skewX(0.05)">1.17970</text>
<text transform="translate(1260.4 492) scale(0.9 1) skewX(0.05)">1.17535</text>
<text transform="translate(1260.4 525) scale(0.9 1) skewX(0.05)">1.17315</text>
<text transform="translate(1258.4 537) scale(0.9 1) skewX(0.05)">0.001944</text>
<text transform="translate(1258.4 564) scale(0.9 1) skewX(0.05)">0.00</text>
<text transform="translate(1258.2 593) scale(0.9 1) skewX(0.05)">-0.002077</text>
<text transform="translate(1258.2 609) scale(0.9 1) skewX(0.05)">-62736</text>
<text transform="translate(1258.2 651) scale(0.9 1) skewX(0.05)">-104834</text>
</g>
<rect class="cr" x="1256" y="448" width="41" height="11" fill="#000"/>
<g class="ax"><text transform="translate(1260.4 457) scale(0.9 1) skewX(0.05)" style="fill:#fff;stroke:#fff">1.17766</text></g>
<g class="ax">
<text transform="translate(2.2 667) scale(0.9 1) skewX(0.05)" textLength="57.33" lengthAdjust="spacing">18 Mar 2021</text>
<text transform="translate(66.2 667) scale(0.9 1) skewX(0.05)" textLength="60.67" lengthAdjust="spacing">18 Mar 13:00</text>
<text transform="translate(130.2 667) scale(0.9 1) skewX(0.05)" textLength="60.67" lengthAdjust="spacing">18 Mar 21:00</text>
<text transform="translate(194.2 667) scale(0.9 1) skewX(0.05)" textLength="60.67" lengthAdjust="spacing">19 Mar 05:00</text>
<text transform="translate(258.2 667) scale(0.9 1) skewX(0.05)" textLength="60.67" lengthAdjust="spacing">19 Mar 13:00</text>
<text transform="translate(322.2 667) scale(0.9 1) skewX(0.05)" textLength="60.67" lengthAdjust="spacing">19 Mar 21:00</text>
<text transform="translate(386.2 667) scale(0.9 1) skewX(0.05)" textLength="60.67" lengthAdjust="spacing">22 Mar 07:00</text>
<text transform="translate(450.2 667) scale(0.9 1) skewX(0.05)" textLength="60.67" lengthAdjust="spacing">22 Mar 15:00</text>
<text transform="translate(514.2 667) scale(0.9 1) skewX(0.05)" textLength="60.67" lengthAdjust="spacing">22 Mar 23:00</text>
<text transform="translate(578.2 667) scale(0.9 1) skewX(0.05)" textLength="60.67" lengthAdjust="spacing">23 Mar 07:00</text>
<text transform="translate(642.2 667) scale(0.9 1) skewX(0.05)" textLength="60.67" lengthAdjust="spacing">23 Mar 15:00</text>
<text transform="translate(706.2 667) scale(0.9 1) skewX(0.05)" textLength="60.67" lengthAdjust="spacing">23 Mar 23:00</text>
<text transform="translate(770.2 667) scale(0.9 1) skewX(0.05)" textLength="60.67" lengthAdjust="spacing">24 Mar 07:00</text>
<text transform="translate(834.2 667) scale(0.9 1) skewX(0.05)" textLength="60.67" lengthAdjust="spacing">24 Mar 15:00</text>
<text transform="translate(898.2 667) scale(0.9 1) skewX(0.05)" textLength="60.67" lengthAdjust="spacing">24 Mar 23:00</text>
<text transform="translate(962.2 667) scale(0.9 1) skewX(0.05)" textLength="60.67" lengthAdjust="spacing">25 Mar 07:00</text>
<text transform="translate(1026.2 667) scale(0.9 1) skewX(0.05)" textLength="60.67" lengthAdjust="spacing">25 Mar 15:00</text>
<text transform="translate(1090.2 667) scale(0.9 1) skewX(0.05)" textLength="60.67" lengthAdjust="spacing">25 Mar 23:00</text>
<text transform="translate(1154.2 667) scale(0.9 1) skewX(0.05)" textLength="60.67" lengthAdjust="spacing">26 Mar 07:00</text>
</g>
<path d="M6 10H13L9.5 13.8Z" fill="#000"/>
<g class="ax">
<text transform="translate(17.9 14) scale(0.9 1) skewX(0.05)" textLength="223.56" lengthAdjust="spacing" xml:space="preserve">EURUSD,H1  1.17734 1.17784 1.17733 1.17766</text>
<text transform="translate(7 539) scale(0.9 1) skewX(0.05)" textLength="170.56" lengthAdjust="spacing">MACD(12,26,9) -0.000495 -0.000648</text>
<text transform="translate(6.6 611) scale(0.9 1) skewX(0.05)" textLength="58.33" lengthAdjust="spacing">OBV -94229</text>
</g>
<text class="lb" x="549.3" y="191">Parabolic SAR(0.02,0.2)</text>
<text class="lb" x="451.6" y="327.8" textLength="126.5" lengthAdjust="spacing">Donchian Channel(10)</text>
<text class="lb" x="684" y="401.8">Fractals</text>
<text x="949.5" y="249" style="font-size:16px;fill:#00ff00">MA(200)</text>
</svg></body></html>
